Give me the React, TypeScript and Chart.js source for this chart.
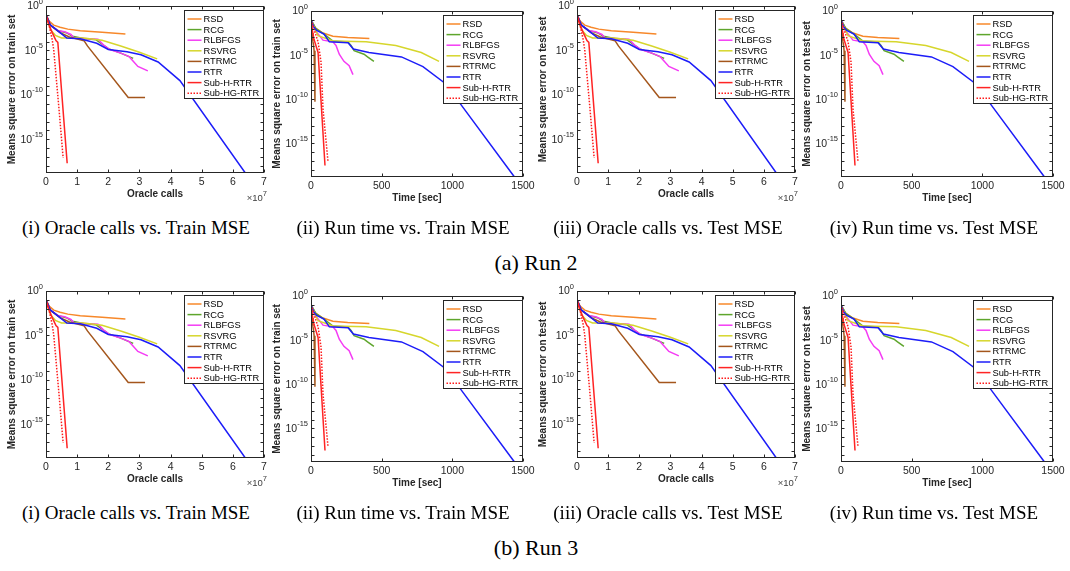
import React, { useEffect, useRef } from 'react';
import { Chart, registerables } from 'chart.js';

Chart.register(...registerables);

// ---------------- data ----------------
const methodNames = ['RSD', 'RCG', 'RLBFGS', 'RSVRG', 'RTRMC', 'RTR', 'Sub-H-RTR', 'Sub-HG-RTR'];
const methodColors = ['#f7882a', '#5ea52c', '#f43cf4', '#d6d62c', '#a4561c', '#1c1cf8', '#ff2424', '#ff1a1a'];
const methodDashes = [[], [], [], [], [], [], [], [1.5, 1.5]];

// Oracle calls (x 1e7) vs MSE
const rsdCalls = [0, 0.1, 0.25, 0.45, 0.7, 1.1, 1.8, 2.55];
const rsdCallsMse = [1e-1, 2e-2, 7.1e-3, 4e-3, 2.5e-3, 1.6e-3, 1.12e-3, 7.1e-4];
const rcgCalls = [0, 0.15, 0.4, 0.65, 0.85, 1.2, 1.6, 1.8, 2.0, 2.4, 2.8];
const rcgCallsMse = [1e-1, 6.3e-3, 1.6e-3, 1e-3, 4e-4, 2.2e-4, 1.6e-4, 5e-5, 1.6e-5, 5e-6, 1.26e-6];
const rlbfgsCalls = [0, 0.15, 0.4, 0.6, 0.8, 0.9, 1.2, 1.67, 1.85, 2.05, 2.4, 2.67, 2.95, 3.27];
const rlbfgsCallsMse = [1e-1, 6.3e-3, 1.6e-3, 1.26e-3, 6.3e-4, 2.5e-4, 2.2e-4, 1.8e-4, 4e-5, 1.26e-5, 5e-6, 2e-6, 1.6e-7, 5e-8];
const rsvrgCalls = [0, 0.15, 0.3, 0.5, 1.2, 1.8, 2.4, 3.0, 3.57];
const rsvrgCallsMse = [1e-1, 2e-3, 5e-4, 2.5e-4, 2.5e-4, 1.4e-4, 3.2e-5, 6.3e-6, 1.12e-6];
const rtrmcCalls = [0, 0.15, 0.45, 0.75, 1.1, 1.22, 1.33, 2.64, 3.18];
const rtrmcCallsMse = [1e-1, 6.3e-3, 1e-3, 3.2e-4, 1.6e-4, 1.26e-4, 3.2e-5, 5e-11, 5e-11];
const rtrCalls = [0, 0.13, 0.45, 0.67, 1.1, 1.63, 2.0, 2.6, 3.05, 3.6, 4.3, 6.4];
const rtrCallsMse = [1e-1, 7.9e-3, 1e-3, 2.5e-4, 2e-4, 6.3e-5, 1.26e-5, 7.1e-6, 3.2e-6, 5e-7, 4e-9, 1.6e-19];
const subHCalls = [0, 0.08, 0.2, 0.32, 0.38, 0.68];
const subHCallsMse = [1e-1, 1e-2, 1e-3, 1.26e-4, 7.9e-5, 2e-18];
const subHGCalls = [0, 0.1, 0.2, 0.25, 0.42, 0.55];
const subHGCallsMse = [1e-1, 6.3e-3, 1.6e-4, 1e-5, 2e-12, 7.9e-18];

// Run time [sec] vs MSE
const rsdTime = [0, 30, 85, 155, 260, 413];
const rsdTimeMse = [1e-1, 1.26e-2, 3.2e-3, 1.4e-3, 1e-3, 7.9e-4];
const rcgTime = [0, 35, 90, 155, 262, 283, 305, 375, 400, 445];
const rcgTimeMse = [1e-1, 1e-2, 2.5e-3, 4e-4, 3.2e-4, 1.26e-4, 3.2e-5, 1.26e-5, 6.3e-6, 2e-6];
const rlbfgsTime = [0, 30, 85, 155, 177, 200, 233, 270, 297];
const rlbfgsTimeMse = [1e-1, 6.3e-3, 5e-4, 3.2e-4, 1.26e-4, 1.26e-5, 2e-6, 6.3e-7, 6.3e-8];
const rsvrgTime = [0, 50, 155, 390, 600, 780, 906];
const rsvrgTimeMse = [1e-1, 1.6e-3, 4e-4, 3.2e-4, 1.26e-4, 2e-5, 2e-6];
const rtrmcTime = [0, 8, 14, 18, 22, 28, 33];
const rtrmcTimeMse = [1e-1, 3.2e-3, 3.2e-4, 1.26e-4, 3.2e-5, 6.3e-11, 6.3e-11];
const rtrTime = [0, 20, 40, 92, 130, 262, 300, 410, 640, 792, 950, 1437];
const rtrTimeMse = [1e-1, 1.6e-2, 6.3e-3, 2.5e-3, 3.2e-4, 2.5e-4, 5e-5, 2e-5, 6.3e-6, 5e-7, 6.3e-9, 1.8e-19];
const subHTime = [0, 10, 21, 50, 99];
const subHTimeMse = [1e-1, 6.3e-3, 6.3e-4, 2e-5, 3.2e-18];
const subHGTime = [0, 20, 50, 71, 85, 120];
const subHGTimeMse = [1e-1, 1e-2, 3.2e-4, 1.6e-6, 7.9e-12, 1e-17];

const callsX = [rsdCalls, rcgCalls, rlbfgsCalls, rsvrgCalls, rtrmcCalls, rtrCalls, subHCalls, subHGCalls];
const callsY = [rsdCallsMse, rcgCallsMse, rlbfgsCallsMse, rsvrgCallsMse, rtrmcCallsMse, rtrCallsMse, subHCallsMse, subHGCallsMse];
const timeX = [rsdTime, rcgTime, rlbfgsTime, rsvrgTime, rtrmcTime, rtrTime, subHTime, subHGTime];
const timeY = [rsdTimeMse, rcgTimeMse, rlbfgsTimeMse, rsvrgTimeMse, rtrmcTimeMse, rtrTimeMse, subHTimeMse, subHGTimeMse];

// ticks
const callsTicks = [0, 1, 2, 3, 4, 5, 6, 7];
const timeTicks = [0, 500, 1000, 1500];
const yTickExps = [0, -1, -2, -3, -4, -5, -6, -7, -8, -9, -10, -11, -12, -13, -14, -15, -16, -17, -18];
const yLabelExps = [0, -5, -10, -15];
const yMin = 1.6e-19;
const yMax = 1;

// captions
const subCaptions = ['(i) Oracle calls vs. Train MSE', '(ii) Run time vs. Train MSE', '(iii) Oracle calls vs. Test MSE', '(iv) Run time vs. Test MSE'];
const runCaptions = ['(a) Run 2', '(b) Run 3'];

// ---------------- styling ----------------
const AXIS = '#262626';
const SANS = "'Liberation Sans', Arial, Helvetica, sans-serif";
const SERIF = "'Liberation Serif', 'Times New Roman', serif";
const Y_W = 46;
const PAD_T = 10;
const PAD_R = 16;
const X_H = 30;
const LINE_W = 1.5;

const matlabPlugin = {
  id: 'matlabAxes',
  afterDraw(chart: any) {
    const { ctx, chartArea: ca } = chart;
    const xs = chart.scales.x;
    const ys = chart.scales.y;
    const kind = chart.options.plugins.matlabAxes.kind;
    ctx.save();
    const L = Math.round(ca.left) + 0.5;
    const R = Math.round(ca.right) - 0.5;
    const T = Math.round(ca.top) + 0.5;
    const B = Math.round(ca.bottom) - 0.5;
    ctx.strokeStyle = AXIS;
    ctx.lineWidth = 1;
    ctx.setLineDash([]);
    ctx.strokeRect(L, T, R - L, B - T);
    ctx.beginPath();
    ys.ticks.forEach((tk: any) => {
      const y = Math.round(ys.getPixelForValue(tk.value)) + 0.5;
      ctx.moveTo(L, y); ctx.lineTo(L + 3, y);
      ctx.moveTo(R, y); ctx.lineTo(R - 3, y);
    });
    xs.ticks.forEach((tk: any) => {
      const x = Math.round(xs.getPixelForValue(tk.value)) + 0.5;
      ctx.moveTo(x, B); ctx.lineTo(x, B - 3);
      ctx.moveTo(x, T); ctx.lineTo(x, T + 3);
    });
    ctx.stroke();

    // y tick labels 10^e
    ctx.fillStyle = AXIS;
    ctx.textBaseline = 'middle';
    ctx.textAlign = 'left';
    yLabelExps.forEach((e) => {
      const y = ys.getPixelForValue(Math.pow(10, e));
      const sup = e === 0 ? '0' : '-' + Math.abs(e);
      ctx.font = `10.5px ${SANS}`;
      const wBase = ctx.measureText('10').width;
      ctx.font = `7.5px ${SANS}`;
      const wSup = ctx.measureText(sup).width;
      const x0 = ca.left - 3 - wBase - wSup;
      ctx.font = `10.5px ${SANS}`;
      ctx.fillText('10', x0, y + 0.5);
      ctx.font = `7.5px ${SANS}`;
      ctx.fillText(sup, x0 + wBase, y - 4.5);
    });

    if (kind === 'calls') {
      ctx.fillStyle = '#404040';
      ctx.font = `7.5px ${SANS}`;
      const wSup = ctx.measureText('7').width;
      ctx.font = `9.5px ${SANS}`;
      const wBase = ctx.measureText('\u00d710').width;
      const xr = ca.right + 3;
      const yb = ca.bottom + 25;
      ctx.fillText('\u00d710', xr - wSup - wBase, yb);
      ctx.font = `7.5px ${SANS}`;
      ctx.fillText('7', xr - wSup, yb - 4.5);
    }

    // legend
    const bw = 79;
    const bh = 88;
    const bx = Math.round(ca.right - 1 - bw) + 0.5;
    const by = Math.round(ca.top + 4) + 0.5;
    ctx.fillStyle = '#ffffff';
    ctx.fillRect(bx, by, bw, bh);
    ctx.strokeStyle = AXIS;
    ctx.lineWidth = 1;
    ctx.strokeRect(bx, by, bw, bh);
    ctx.font = `9.3px ${SANS}`;
    ctx.textBaseline = 'middle';
    methodNames.forEach((name, i) => {
      const yy = by + 8.5 + i * 10.6;
      ctx.strokeStyle = methodColors[i];
      ctx.lineWidth = LINE_W;
      ctx.setLineDash(methodDashes[i]);
      ctx.beginPath();
      ctx.moveTo(bx + 3, yy);
      ctx.lineTo(bx + 17, yy);
      ctx.stroke();
      ctx.setLineDash([]);
      ctx.fillStyle = '#000000';
      ctx.fillText(name, bx + 19, yy + 0.5);
    });
    ctx.restore();
  },
};

type PanelProps = { l: number; t: number; r: number; b: number; kind: 'calls' | 'time'; yTitle: string };

function Panel({ l, t, r, b, kind, yTitle }: PanelProps) {
  const ref = useRef<HTMLCanvasElement | null>(null);
  const W = r - l + Y_W + PAD_R;
  const H = b - t + PAD_T + X_H;
  useEffect(() => {
    if (!ref.current) return;
    const isCalls = kind === 'calls';
    const xsArr = isCalls ? callsX : timeX;
    const ysArr = isCalls ? callsY : timeY;
    const datasets = methodNames.map((name, i) => ({
      label: name,
      data: xsArr[i].map((x, j) => ({ x, y: ysArr[i][j] })),
      borderColor: methodColors[i],
      backgroundColor: methodColors[i],
      borderWidth: LINE_W,
      borderDash: methodDashes[i],
      pointRadius: 0,
      showLine: true,
      tension: 0,
      fill: false,
      order: methodNames.length - 1 - i,
    }));
    const xTicks = isCalls ? callsTicks : timeTicks;
    const chart = new Chart(ref.current, {
      type: 'scatter',
      data: { datasets },
      plugins: [matlabPlugin],
      options: {
        animation: false,
        responsive: false,
        devicePixelRatio: 1,
        events: [],
        layout: { padding: { left: 0, top: PAD_T, right: PAD_R, bottom: 0 } },
        plugins: {
          legend: { display: false },
          tooltip: { enabled: false },
          matlabAxes: { kind },
        } as any,
        scales: {
          x: {
            type: 'linear',
            min: xTicks[0],
            max: xTicks[xTicks.length - 1],
            grid: { display: false, drawTicks: false },
            border: { display: false },
            afterBuildTicks: (s: any) => { s.ticks = xTicks.map((v) => ({ value: v })); },
            afterFit: (s: any) => { s.height = X_H; },
            ticks: {
              color: AXIS,
              padding: 3,
              maxRotation: 0,
              autoSkip: false,
              font: { family: SANS, size: 10.5 },
              callback: (v: any) => String(v),
            },
            title: {
              display: true,
              text: isCalls ? 'Oracle calls' : 'Time [sec]',
              color: AXIS,
              font: { family: SANS, size: 10, weight: 'bold' },
              padding: { top: 0, bottom: 3 },
            },
          },
          y: {
            type: 'logarithmic',
            min: yMin,
            max: yMax,
            grid: { display: false, drawTicks: false },
            border: { display: false },
            afterBuildTicks: (s: any) => { s.ticks = yTickExps.map((e) => ({ value: Math.pow(10, e) })); },
            afterFit: (s: any) => { s.width = Y_W; },
            ticks: { display: false },
            title: {
              display: true,
              text: yTitle,
              color: AXIS,
              font: { family: SANS, size: 10, weight: 'bold' },
              padding: { top: 6, bottom: 0 },
            },
          },
        },
      } as any,
    });
    return () => chart.destroy();
  }, [l, t, r, b, kind, yTitle]);
  return (
    <canvas
      ref={ref}
      width={W}
      height={H}
      style={{ position: 'absolute', left: l - Y_W, top: t - PAD_T, width: W, height: H }}
    />
  );
}

const panelSpecs = [
  { l: 46, r: 264, dt: 6, db: 173, kind: 'calls', set: 'train' },
  { l: 311, r: 523, dt: 11, db: 177, kind: 'time', set: 'train' },
  { l: 577, r: 795, dt: 6, db: 173, kind: 'calls', set: 'test' },
  { l: 841, r: 1053, dt: 11, db: 177, kind: 'time', set: 'test' },
];
const rowOffsets = [0, 285];
const captionCenters = [136, 403, 668, 934];

export default function App() {
  return (
    <div style={{ position: 'absolute', left: 0, top: 0, width: 1070, height: 571, background: '#fff', overflow: 'hidden' }}>
      {rowOffsets.map((off, ri) => (
        <React.Fragment key={ri}>
          {panelSpecs.map((p, pi) => (
            <Panel
              key={pi}
              l={p.l}
              r={p.r}
              t={p.dt + off}
              b={p.db + off}
              kind={p.kind as any}
              yTitle={`Means square error on ${p.set} set`}
            />
          ))}
          {subCaptions.map((c, ci) => (
            <div
              key={'c' + ci}
              style={{
                position: 'absolute',
                left: captionCenters[ci],
                top: 228 + off - 11,
                transform: 'translateX(-50%)',
                whiteSpace: 'nowrap',
                fontFamily: SERIF,
                fontSize: 19,
                lineHeight: '22px',
                color: '#000',
              }}
            >
              {c}
            </div>
          ))}
          <div
            style={{
              position: 'absolute',
              left: 536,
              top: 263 + off - 12,
              transform: 'translateX(-50%)',
              whiteSpace: 'nowrap',
              fontFamily: SERIF,
              fontSize: 22,
              lineHeight: '24px',
              color: '#000',
            }}
          >
            {runCaptions[ri]}
          </div>
        </React.Fragment>
      ))}
    </div>
  );
}
